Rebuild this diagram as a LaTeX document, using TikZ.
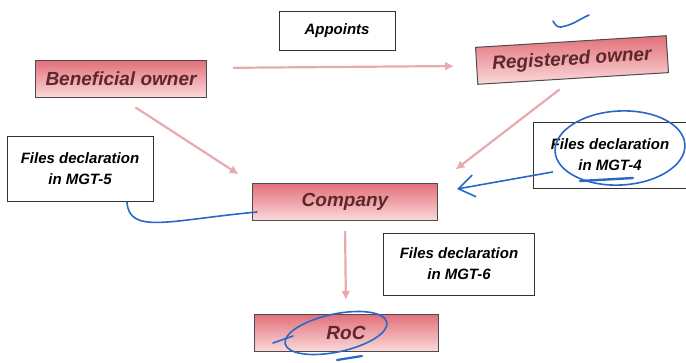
\documentclass[tikz,border=0pt]{standalone}
\usepackage{fontspec}
\setmainfont{Liberation Sans}
\usetikzlibrary{arrows.meta}
\definecolor{boxtop}{RGB}{226,112,122}
\definecolor{boxbot}{RGB}{251,218,218}
\definecolor{boxtext}{RGB}{92,40,42}
\definecolor{flowpink}{RGB}{234,170,172}
\definecolor{penblue}{RGB}{40,104,200}

\begin{document}
\begin{tikzpicture}[x=1pt,y=-1pt]
        \useasboundingbox (0,0) rectangle (686,362);
        \tikzstyle{party}=[draw=black!70, line width=1pt, top color=boxtop, bottom color=boxbot, text=boxtext, minimum height=37pt, inner sep=0pt, font=\fontsize{19}{21}\selectfont\bfseries\itshape];
        \tikzstyle{note}=[draw=black!80, line width=1pt, fill=white, align=center, inner sep=0pt, font=\fontsize{15}{21}\selectfont\bfseries\itshape];
        \tikzstyle{flow}=[draw=flowpink, line width=2.2pt, -{Latex[length=9pt,width=9pt]}];
        \tikzstyle{pen}=[draw=penblue, line width=1.6pt, line cap=round];

        % boxes
        \node[party, minimum width=171pt] (bo) at (121,79) {Beneficial owner};
        \node[party, minimum width=191pt, rotate=3.5] (ro) at (572,60) {Registered owner};
        \node[party, minimum width=185pt] (co) at (345,202) {Company};
        \node[party, minimum width=184pt] (roc) at (346,333) {RoC};

        % notes
        \node[note, minimum width=116pt, minimum height=39pt] (appoints) at (337,31) {Appoints};
        \node[note, minimum width=146pt, minimum height=65pt] (mgtfive) at (80,169) {Files declaration\\in MGT-5};
        \node[note, minimum width=160pt, minimum height=66pt] (mgtfour) at (613,155) {\hspace*{-6pt}Files declaration\\\hspace*{-6pt}in MGT-4};
        \node[note, minimum width=151pt, minimum height=62pt] (mgtsix) at (459,264) {Files declaration\\in MGT-6};

        % arrows
        \draw[flow, shorten <=26pt, shorten >=22pt] ([yshift=11pt]bo.east) -- (ro.west);
        \draw[flow, shorten <=17pt, shorten >=16pt] (bo.south) -- (co.north west);
        \draw[flow, shorten <=17pt, shorten >=22pt] (ro.south) -- (co.north east);
        \draw[flow, shorten <=10pt, shorten >=14pt] (co.south) -- (roc.north);

        % pen marks
        \draw[pen] (553,21) to[out=-60,in=190] (561,27) to[out=10,in=205] (589,15);
        \draw[pen, rotate around={3:(620,148)}] (620,148) ellipse [x radius=65, y radius=37];
        \draw[pen, line width=2.4pt] (580,181) -- (633,178);
        \draw[pen, -{Straight Barb[length=16pt,width=22pt]}] ([xshift=20pt,yshift=-17pt]mgtfour.west) -- ([xshift=19pt,yshift=13pt]co.east);
        \draw[pen] ([xshift=47pt]mgtfive.south) .. controls (129,235) and (170,220) .. ([xshift=5pt,yshift=-10pt]co.west);
        \draw[pen, rotate around={12:(336,333)}] (336,333) ellipse [x radius=52, y radius=19];
        \draw[pen] (273,343) -- (293,336);
        \draw[pen, line width=2.2pt] (337,360) -- (362,356);
\end{tikzpicture}
\end{document}
